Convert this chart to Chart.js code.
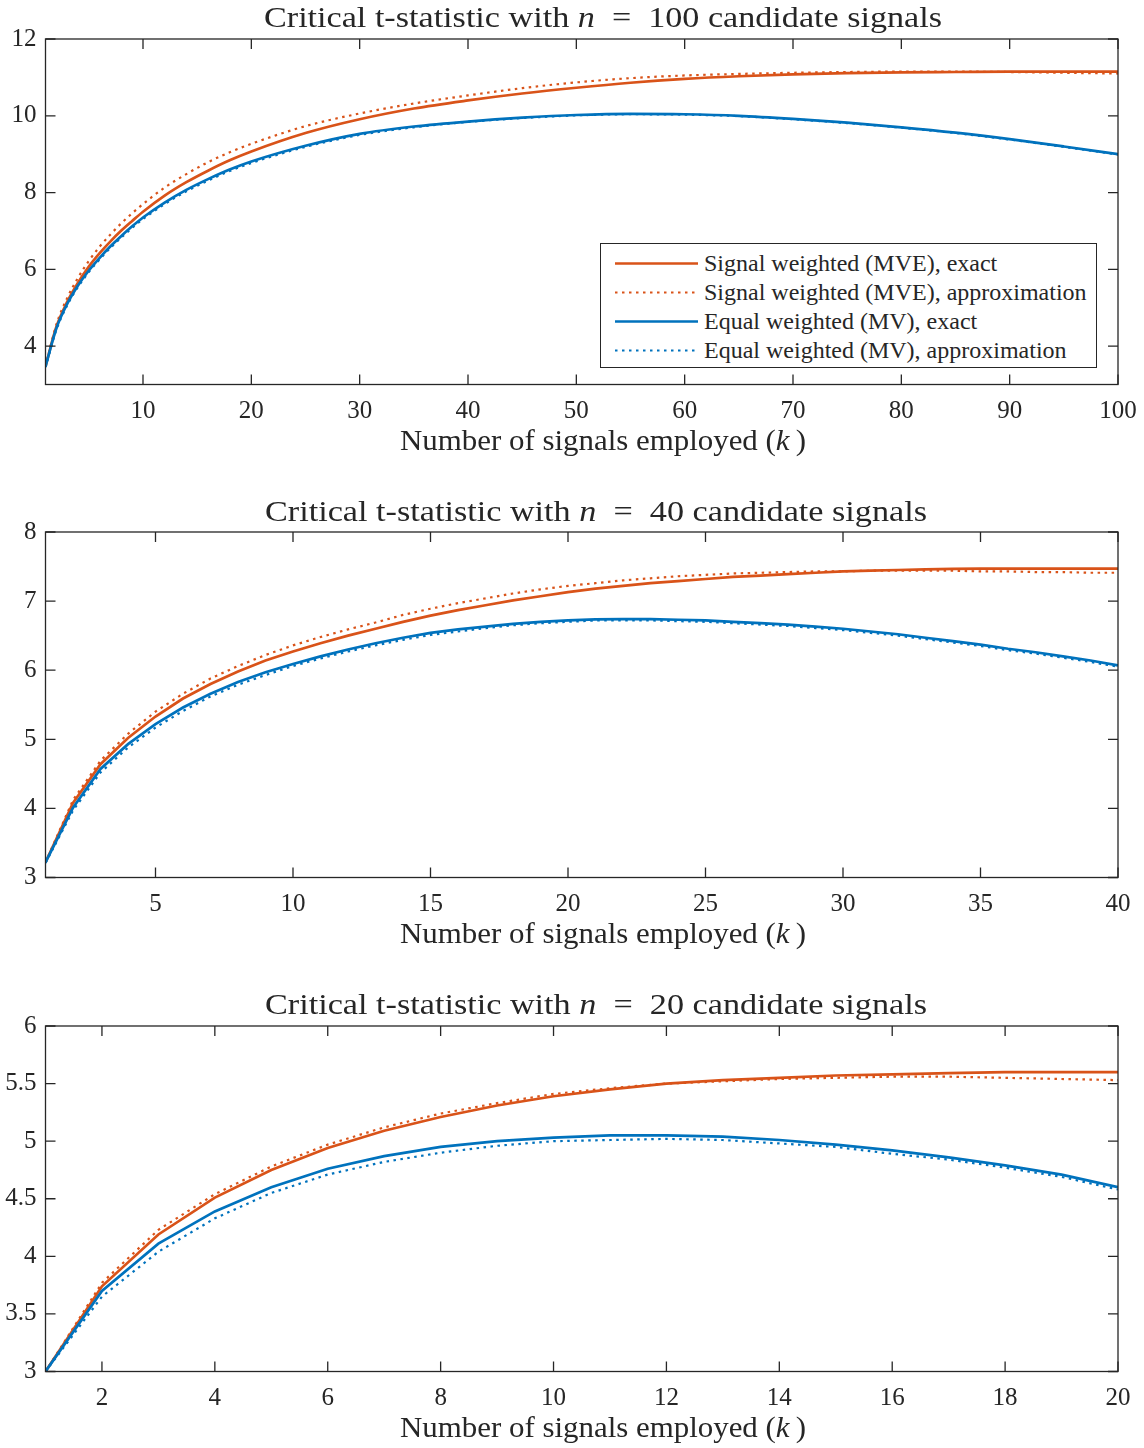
<!DOCTYPE html>
<html>
<head>
<meta charset="utf-8">
<script src="https://cdn.jsdelivr.net/npm/chart.js@4.4.1/dist/chart.umd.min.js"></script>
<style>
  html, body { margin: 0; padding: 0; background: #fff; }
  body { width: 1144px; height: 1448px; position: relative; overflow: hidden;
         font-family: "Liberation Serif", "Times New Roman", serif; color: #262626; }
  canvas { position: absolute; left: 0; }
  .title, .xlabel { position: absolute; white-space: nowrap; transform-origin: 0 0; }
  .title { font-size: 30px; line-height: 30px; }
  .xlabel { font-size: 30px; line-height: 30px; }
  .legend { position: absolute; left: 600px; top: 243px; width: 497px; height: 125px;
            border: 1.3px solid #262626; background: #fff; box-sizing: border-box; font-size: 24px; }
  .legend .row { position: absolute; left: 0; height: 29px; line-height: 29px; white-space: nowrap; }
  .legend svg { position: absolute; left: 14px; top: 0; }
  .legend span { position: absolute; left: 103px; }
</style>
</head>
<body>
<canvas id="c1" width="1144" height="430" style="top:0px"></canvas>
<canvas id="c2" width="1144" height="430" style="top:493px"></canvas>
<canvas id="c3" width="1144" height="430" style="top:987px"></canvas>

<div class="title" data-left="264" data-width="678" style="top:2px">Critical t-statistic with <i>n</i>&nbsp;&nbsp;=&nbsp;&nbsp;100 candidate signals</div>
<div class="xlabel" data-left="400" data-width="406" style="top:425px">Number of signals employed (<i>k</i>&thinsp;)</div>
<div class="title" data-left="265" data-width="662" style="top:496px">Critical t-statistic with <i>n</i>&nbsp;&nbsp;=&nbsp;&nbsp;40 candidate signals</div>
<div class="xlabel" data-left="400" data-width="406" style="top:918px">Number of signals employed (<i>k</i>&thinsp;)</div>
<div class="title" data-left="265" data-width="662" style="top:989px">Critical t-statistic with <i>n</i>&nbsp;&nbsp;=&nbsp;&nbsp;20 candidate signals</div>
<div class="xlabel" data-left="400" data-width="406" style="top:1412px">Number of signals employed (<i>k</i>&thinsp;)</div>
<div class="legend" id="legend"></div>

<script>
// ---------- data ----------
const seriesLabels = [
  'Signal weighted (MVE), exact',
  'Signal weighted (MVE), approximation',
  'Equal weighted (MV), exact',
  'Equal weighted (MV), approximation'
];

// n = 100
const k100 = [1,2,3,4,5,6,7,8,9,10,12,14,16,18,20,25,30,35,40,45,50,55,60,65,70,75,80,85,90,95,100];
const mveExact100  = [3.47,4.50,5.15,5.65,6.07,6.42,6.73,7.01,7.26,7.50,7.92,8.27,8.57,8.84,9.07,9.55,9.91,10.19,10.40,10.58,10.73,10.86,10.96,11.03,11.08,11.11,11.13,11.14,11.15,11.15,11.15];
const mveApprox100 = [3.47,4.56,5.25,5.78,6.22,6.59,6.91,7.20,7.46,7.70,8.13,8.48,8.79,9.05,9.27,9.73,10.06,10.32,10.53,10.72,10.87,10.98,11.05,11.09,11.12,11.14,11.15,11.15,11.14,11.12,11.10];
const mvExact100   = [3.47,4.46,5.10,5.58,5.97,6.30,6.60,6.87,7.12,7.35,7.74,8.07,8.35,8.60,8.81,9.22,9.53,9.72,9.85,9.95,10.02,10.05,10.04,10.00,9.92,9.82,9.70,9.56,9.39,9.20,9.00];
const mvApprox100  = [3.45,4.42,5.06,5.54,5.93,6.26,6.56,6.83,7.08,7.31,7.70,8.03,8.31,8.56,8.77,9.19,9.50,9.70,9.84,9.94,10.01,10.04,10.03,9.99,9.91,9.81,9.69,9.55,9.38,9.19,8.99];
const xTicks100 = [10,20,30,40,50,60,70,80,90,100];
const yTicks100 = [4,6,8,10,12];

// n = 40
const k40 = [1,2,3,4,5,6,7,8,9,10,11,12,13,14,15,16,17,18,19,20,21,22,23,24,25,26,27,28,29,30,31,32,33,34,35,36,37,38,39,40];
const mveExact40  = [3.22,4.08,4.64,5.02,5.33,5.59,5.80,5.98,6.14,6.27,6.39,6.50,6.60,6.70,6.79,6.87,6.94,7.01,7.07,7.13,7.18,7.22,7.26,7.29,7.32,7.35,7.37,7.39,7.41,7.43,7.44,7.45,7.46,7.465,7.47,7.47,7.47,7.47,7.47,7.47];
const mveApprox40 = [3.22,4.12,4.69,5.08,5.40,5.66,5.88,6.06,6.22,6.36,6.48,6.59,6.69,6.80,6.89,6.97,7.04,7.11,7.17,7.22,7.26,7.30,7.33,7.36,7.38,7.40,7.41,7.42,7.43,7.43,7.44,7.44,7.44,7.44,7.43,7.43,7.42,7.42,7.41,7.41];
const mvExact40   = [3.22,4.01,4.57,4.93,5.22,5.46,5.66,5.83,5.97,6.09,6.20,6.30,6.39,6.47,6.54,6.59,6.63,6.67,6.70,6.72,6.735,6.74,6.74,6.73,6.72,6.70,6.68,6.66,6.63,6.60,6.56,6.52,6.47,6.42,6.37,6.31,6.26,6.20,6.14,6.07];
const mvApprox40  = [3.21,3.97,4.52,4.88,5.17,5.41,5.62,5.79,5.93,6.06,6.17,6.27,6.36,6.44,6.51,6.56,6.61,6.65,6.68,6.70,6.72,6.72,6.72,6.71,6.70,6.68,6.66,6.64,6.61,6.58,6.54,6.50,6.45,6.40,6.35,6.29,6.24,6.18,6.12,6.05];
const xTicks40 = [5,10,15,20,25,30,35,40];
const yTicks40 = [3,4,5,6,7,8];

// n = 20
const k20 = [1,2,3,4,5,6,7,8,9,10,11,12,13,14,15,16,17,18,19,20];
const mveExact20  = [3.00,3.74,4.19,4.51,4.75,4.94,5.09,5.21,5.31,5.39,5.45,5.50,5.53,5.55,5.57,5.58,5.59,5.60,5.60,5.60];
const mveApprox20 = [3.00,3.77,4.23,4.54,4.78,4.97,5.12,5.24,5.33,5.41,5.46,5.50,5.52,5.54,5.55,5.56,5.56,5.55,5.54,5.53];
const mvExact20   = [3.00,3.70,4.11,4.39,4.60,4.76,4.87,4.95,5.00,5.03,5.05,5.05,5.04,5.01,4.97,4.92,4.86,4.79,4.71,4.60];
const mvApprox20  = [3.00,3.65,4.04,4.33,4.55,4.71,4.82,4.90,4.96,5.00,5.01,5.02,5.01,4.98,4.95,4.89,4.84,4.77,4.69,4.58];
const xTicks20 = [2,4,6,8,10,12,14,16,18,20];
const yTicks20 = [3,3.5,4,4.5,5,5.5,6];

// ---------- styles ----------
const ORANGE = '#D95319';
const BLUE = '#0072BD';
const AXIS = '#262626';
const DOT = [2.5, 4.5];

Chart.defaults.font.family = '"Liberation Serif", "Times New Roman", serif';
Chart.defaults.color = AXIS;

const framePlugin = {
  id: 'matlabFrame',
  afterDatasetsDraw(chart) {
    const { ctx, chartArea: a, scales: { x, y } } = chart;
    const L = 10;
    ctx.save();
    ctx.strokeStyle = AXIS;
    ctx.lineWidth = 1.3;
    ctx.strokeRect(a.left, a.top, a.right - a.left, a.bottom - a.top);
    ctx.beginPath();
    x.ticks.forEach(t => {
      const p = x.getPixelForValue(t.value);
      ctx.moveTo(p, a.bottom); ctx.lineTo(p, a.bottom - L);
      ctx.moveTo(p, a.top); ctx.lineTo(p, a.top + L);
    });
    y.ticks.forEach(t => {
      const p = y.getPixelForValue(t.value);
      ctx.moveTo(a.left, p); ctx.lineTo(a.left + L, p);
      ctx.moveTo(a.right, p); ctx.lineTo(a.right - L, p);
    });
    ctx.stroke();
    ctx.restore();
  }
};

function pts(ks, vals) { return ks.map((k, i) => ({ x: k, y: vals[i] })); }

function makeChart(id, ks, series, xMax, yMin, yMax, xTicks, yTicks, smooth) {
  const colors = [ORANGE, ORANGE, BLUE, BLUE];
  const datasets = series.map((vals, i) => ({
    label: seriesLabels[i],
    data: pts(ks, vals),
    borderColor: colors[i],
    backgroundColor: colors[i],
    borderWidth: i % 2 === 0 ? 2.7 : 2.2,
    borderDash: i % 2 === 0 ? [] : DOT,
    pointRadius: 0,
    fill: false,
    tension: 0,
    cubicInterpolationMode: smooth ? 'monotone' : 'default',
    order: 4 - i
  }));
  return new Chart(document.getElementById(id), {
    type: 'line',
    data: { datasets },
    options: {
      responsive: false,
      animation: false,
      events: [],
      layout: { padding: { top: 39, right: 26, bottom: 0, left: 0 } },
      plugins: { legend: { display: false }, tooltip: { enabled: false }, title: { display: false } },
      scales: {
        x: {
          type: 'linear', min: 1, max: xMax,
          grid: { display: false, drawTicks: false },
          border: { display: false },
          afterBuildTicks: ax => { ax.ticks = xTicks.map(v => ({ value: v })); },
          afterFit: ax => { ax.height = 45.5; ax.paddingLeft = 0; ax.paddingRight = 0; },
          ticks: { font: { size: 25 }, padding: 12, maxRotation: 0, autoSkip: false, callback: v => String(v) }
        },
        y: {
          type: 'linear', min: yMin, max: yMax,
          grid: { display: false, drawTicks: false },
          border: { display: false },
          afterBuildTicks: ax => { ax.ticks = yTicks.map(v => ({ value: v })); },
          afterFit: ax => { ax.width = 45.5; ax.paddingTop = 0; ax.paddingBottom = 0; },
          ticks: { font: { size: 25 }, padding: 9, autoSkip: false, callback: v => String(v) }
        }
      }
    },
    plugins: [framePlugin]
  });
}

const chart1 = makeChart('c1', k100, [mveExact100, mveApprox100, mvExact100, mvApprox100], 100, 3, 12, xTicks100, yTicks100, true);
const chart2 = makeChart('c2', k40, [mveExact40, mveApprox40, mvExact40, mvApprox40], 40, 3, 8, xTicks40, yTicks40, false);
const chart3 = makeChart('c3', k20, [mveExact20, mveApprox20, mvExact20, mvApprox20], 20, 3, 6, xTicks20, yTicks20, false);

// ---------- legend (chart 1) ----------
const legend = document.getElementById('legend');
chart1.data.datasets.forEach((ds, i) => {
  const row = document.createElement('div');
  row.className = 'row';
  row.style.top = (5 + i * 29) + 'px';
  row.style.width = '100%';
  const dash = ds.borderDash.length ? `stroke-dasharray="${ds.borderDash.join(' ')}"` : '';
  row.innerHTML = `<svg width="86" height="29"><line x1="0" y1="14.5" x2="83" y2="14.5" stroke="${ds.borderColor}" stroke-width="${ds.borderWidth}" ${dash}/></svg><span>${ds.label}</span>`;
  legend.appendChild(row);
});

// ---------- fit title / axis label text to the reference widths ----------
function fitText() {
  document.querySelectorAll('.title, .xlabel').forEach(el => {
    el.style.transform = 'none';
    el.style.left = el.dataset.left + 'px';
    const w = el.getBoundingClientRect().width;
    const s = (+el.dataset.width) / w;
    el.style.transform = `scaleX(${s})`;
  });
}
fitText();
if (document.fonts && document.fonts.ready) document.fonts.ready.then(fitText);
</script>
</body>
</html>
